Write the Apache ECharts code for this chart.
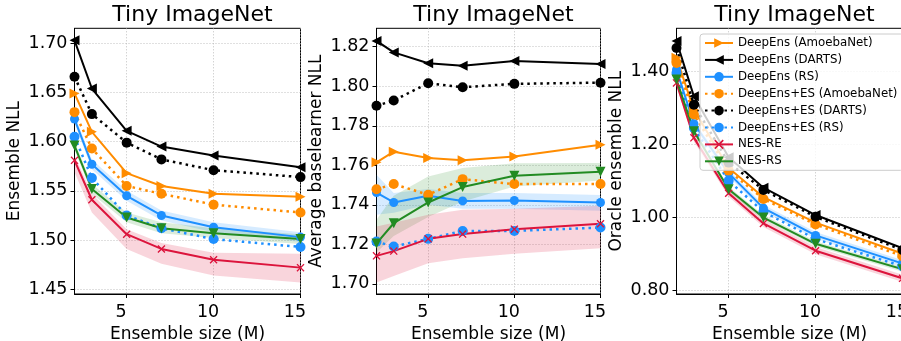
<!DOCTYPE html>
<html><head><meta charset="utf-8">
<script src="https://cdn.jsdelivr.net/npm/echarts@6/dist/echarts.min.js"></script>
<style>html,body{margin:0;padding:0;background:#fff}#c{width:901px;height:341px}</style>
</head><body><div id="c"></div><script>
const M = [2, 3, 5, 7, 10, 15];
const names = ['DeepEns (AmoebaNet)','DeepEns (DARTS)','DeepEns (RS)','DeepEns+ES (AmoebaNet)','DeepEns+ES (DARTS)','DeepEns+ES (RS)','NES-RE','NES-RS'];
const titles = ['Tiny ImageNet','Tiny ImageNet','Tiny ImageNet'];
const yNames = ['Ensemble NLL','Average baselearner NLL','Oracle ensemble NLL'];
const xName = 'Ensemble size (M)';
const xTicks = [5, 10, 15];
const yTicks1 = [1.45, 1.50, 1.55, 1.60, 1.65, 1.70];
const yTicks2 = [1.70, 1.72, 1.74, 1.76, 1.78, 1.80, 1.82];
const yTicks3 = [0.80, 1.00, 1.20, 1.40];

// Panel 1: Ensemble NLL
const p1Amoeba   = [1.649, 1.610, 1.568, 1.555, 1.547, 1.544];
const p1Darts    = [1.703, 1.654, 1.611, 1.595, 1.586, 1.574];
const p1Rs       = [1.623, 1.577, 1.545, 1.525, 1.513, 1.503];
const p1EsAmoeba = [1.630, 1.593, 1.555, 1.547, 1.536, 1.528];
const p1EsDarts  = [1.666, 1.628, 1.599, 1.582, 1.571, 1.564];
const p1EsRs     = [1.605, 1.563, 1.525, 1.512, 1.501, 1.493];
const p1NesRe    = [1.581, 1.541, 1.506, 1.491, 1.480, 1.472];
const p1NesRs    = [1.596, 1.552, 1.523, 1.512, 1.507, 1.501];
const p1NesReLo  = [1.569, 1.528, 1.491, 1.476, 1.464, 1.457];
const p1NesReHi  = [1.586, 1.547, 1.511, 1.497, 1.487, 1.486];
const p1NesRsLo  = [1.592, 1.547, 1.518, 1.507, 1.502, 1.496];
const p1NesRsHi  = [1.600, 1.557, 1.528, 1.518, 1.512, 1.506];
const p1RsLo     = [1.619, 1.572, 1.540, 1.520, 1.508, 1.498];
const p1RsHi     = [1.627, 1.582, 1.550, 1.530, 1.518, 1.508];

// Panel 2: Average baselearner NLL
const p2Amoeba   = [1.7615, 1.7669, 1.7637, 1.7625, 1.7645, 1.7704];
const p2Darts    = [1.8229, 1.8171, 1.8116, 1.8103, 1.8128, 1.8113];
const p2Rs       = [1.7462, 1.7412, 1.7446, 1.7420, 1.7422, 1.7412];
const p2EsAmoeba = [1.7479, 1.7505, 1.7451, 1.7530, 1.7505, 1.7505];
const p2EsDarts  = [1.7901, 1.7928, 1.8015, 1.7995, 1.8012, 1.8018];
const p2EsRs     = [1.7214, 1.7189, 1.7228, 1.7268, 1.7268, 1.7285];
const p2NesRe    = [1.7142, 1.7166, 1.7228, 1.7252, 1.7277, 1.7304];
const p2NesRs    = [1.7205, 1.7307, 1.7412, 1.7490, 1.7547, 1.7568];
const p2NesReLo  = [1.7007, 1.7040, 1.7105, 1.7130, 1.7152, 1.7181];
const p2NesReHi  = [1.7290, 1.7310, 1.7350, 1.7375, 1.7380, 1.7395];
const p2NesRsLo  = [1.7159, 1.7243, 1.7338, 1.7417, 1.7493, 1.7523];
const p2NesRsHi  = [1.7324, 1.7446, 1.7543, 1.7586, 1.7611, 1.7612];
const p2RsLo     = [1.7350, 1.7360, 1.7400, 1.7380, 1.7380, 1.7370];
const p2RsHi     = [1.7552, 1.7460, 1.7480, 1.7460, 1.7460, 1.7450];

// Panel 3: Oracle ensemble NLL
const p3Amoeba   = [1.438, 1.295, 1.135, 1.055, 0.985, 0.900];
const p3Darts    = [1.484, 1.332, 1.165, 1.081, 1.006, 0.915];
const p3Rs       = [1.405, 1.257, 1.121, 1.025, 0.950, 0.873];
const p3EsAmoeba = [1.424, 1.282, 1.128, 1.050, 0.980, 0.893];
const p3EsDarts  = [1.465, 1.309, 1.150, 1.075, 1.001, 0.910];
const p3EsRs     = [1.396, 1.245, 1.100, 1.015, 0.940, 0.865];
const p3NesRe    = [1.369, 1.218, 1.066, 0.983, 0.908, 0.832];
const p3NesRs    = [1.378, 1.236, 1.077, 0.999, 0.927, 0.857];
const p3NesReLo  = [1.360, 1.208, 1.056, 0.973, 0.898, 0.822];
const p3NesReHi  = [1.378, 1.228, 1.076, 0.993, 0.918, 0.842];
const p3NesRsLo  = [1.371, 1.229, 1.070, 0.992, 0.920, 0.850];
const p3NesRsHi  = [1.385, 1.243, 1.084, 1.006, 0.934, 0.864];
const p3RsLo     = [1.396, 1.248, 1.112, 1.016, 0.941, 0.864];
const p3RsHi     = [1.414, 1.266, 1.130, 1.034, 0.959, 0.882];

const FONT = 'DejaVu Sans';
const ORANGE = '#ff8c00', BLACK = '#000000', BLUE = '#1e90ff', RED = '#dc143c', GREEN = '#228b22';
const XPATH = 'path://M1.2,0 L5,3.8 L8.8,0 L10,1.2 L6.2,5 L10,8.8 L8.8,10 L5,6.2 L1.2,10 L0,8.8 L3.8,5 L0,1.2 Z';

const panels = [
  {left: 74.5, width: 226, min: 1.4452, max: 1.7152, ticks: yTicks1, nameGap: 51,
   d: [p1Amoeba, p1Darts, p1Rs, p1EsAmoeba, p1EsDarts, p1EsRs, p1NesRe, p1NesRs],
   bands: [[p1RsLo, p1RsHi, 'rgba(30,144,255,0.18)'], [p1NesRsLo, p1NesRsHi, 'rgba(34,139,34,0.16)'], [p1NesReLo, p1NesReHi, 'rgba(220,20,60,0.18)']]},
  {left: 376.5, width: 224, min: 1.6949, max: 1.8293, ticks: yTicks2, nameGap: 51,
   d: [p2Amoeba, p2Darts, p2Rs, p2EsAmoeba, p2EsDarts, p2EsRs, p2NesRe, p2NesRs],
   bands: [[p2RsLo, p2RsHi, 'rgba(30,144,255,0.18)'], [p2NesRsLo, p2NesRsHi, 'rgba(34,139,34,0.16)'], [p2NesReLo, p2NesReHi, 'rgba(220,20,60,0.18)']]},
  {left: 676.5, width: 226, min: 0.789, max: 1.519, ticks: yTicks3, nameGap: 51,
   d: [p3Amoeba, p3Darts, p3Rs, p3EsAmoeba, p3EsDarts, p3EsRs, p3NesRe, p3NesRs],
   bands: [[p3RsLo, p3RsHi, 'rgba(30,144,255,0.18)'], [p3NesRsLo, p3NesRsHi, 'rgba(34,139,34,0.16)'], [p3NesReLo, p3NesReHi, 'rgba(220,20,60,0.18)']]}
];

const styles = [
  {color: ORANGE, symbol: 'triangle', rotate: -90, size: 10, dotted: false},
  {color: BLACK,  symbol: 'triangle', rotate: 90,  size: 10, dotted: false},
  {color: BLUE,   symbol: 'circle',   rotate: 0,   size: 9,  dotted: false},
  {color: ORANGE, symbol: 'circle',   rotate: 0,   size: 10, dotted: true},
  {color: BLACK,  symbol: 'circle',   rotate: 0,   size: 10, dotted: true},
  {color: BLUE,   symbol: 'circle',   rotate: 0,   size: 10, dotted: true},
  {color: RED,    symbol: XPATH,      rotate: 0,   size: 8,  dotted: false},
  {color: GREEN,  symbol: 'triangle', rotate: 180, size: 10, dotted: false}
];

const grid = [], xAxis = [], yAxis = [], series = [], title = [];
const pair = arr => arr.map((v, i) => [M[i], v]);

panels.forEach((p, gi) => {
  grid.push({left: p.left, top: 28.3, width: p.width, height: 265.7, show: true,
    outerBoundsMode: 'none', containLabel: false,
    borderColor: '#000', borderWidth: 1, backgroundColor: 'transparent'});
  title.push({text: titles[gi], left: p.left + p.width / 2, top: -1, textAlign: 'center',
    textStyle: {fontFamily: FONT, fontSize: 22, fontWeight: 'normal', color: '#000'}});
  xAxis.push({type: 'value', gridIndex: gi, min: 2, max: 15,
    name: xName, nameLocation: 'middle', nameGap: 32,
    nameTextStyle: {fontFamily: FONT, fontSize: 17, color: '#000'},
    axisLine: {show: true, onZero: false, lineStyle: {color: '#000', width: 1}},
    axisTick: {show: true, customValues: xTicks, length: 4, lineStyle: {color: '#000'}},
    axisLabel: {customValues: xTicks, fontFamily: FONT, fontSize: 17.5, color: '#000', margin: 9,
      padding: [0, 11, 0, 0]},
    splitLine: {show: true, lineStyle: {color: '#b0b0b0', type: [1, 2], width: 0.8}}});
  yAxis.push({type: 'value', gridIndex: gi, min: p.min, max: p.max,
    name: yNames[gi], nameLocation: 'middle', nameGap: p.nameGap,
    nameTextStyle: {fontFamily: FONT, fontSize: 17, color: '#000'},
    axisLine: {show: true, onZero: false, lineStyle: {color: '#000', width: 1}},
    axisTick: {show: true, customValues: p.ticks, length: 4, lineStyle: {color: '#000'}},
    axisLabel: {customValues: p.ticks, fontFamily: FONT, fontSize: 17.5, color: '#000', margin: 7,
      formatter: v => v.toFixed(2)},
    splitLine: {show: true, lineStyle: {color: '#b0b0b0', type: [1, 2], width: 0.8}}});
  p.bands.forEach((b) => {
    const lo = b[0], hi = b[1], fill = b[2];
    series.push({type: 'custom', xAxisIndex: gi, yAxisIndex: gi, coordinateSystem: 'cartesian2d',
      data: [[M[0], lo[0]]], silent: true, clip: true, z: 1,
      renderItem: (params, api) => {
        const pts = [];
        for (let i = 0; i < M.length; i++) pts.push(api.coord([M[i], hi[i]]));
        for (let i = M.length - 1; i >= 0; i--) pts.push(api.coord([M[i], lo[i]]));
        return {type: 'polygon', shape: {points: pts}, style: {fill: fill}};
      }});
  });
  p.d.forEach((arr, si) => {
    const s = styles[si];
    series.push({type: 'line', name: names[si], xAxisIndex: gi, yAxisIndex: gi,
      data: pair(arr), symbol: s.symbol, symbolSize: s.size, symbolRotate: s.rotate,
      showAllSymbol: true, clip: false,
      itemStyle: {color: s.color, borderWidth: 0},
      lineStyle: {color: s.color, width: s.dotted ? 2.5 : 2, type: s.dotted ? [2.5, 4] : 'solid'},
      emphasis: {disabled: true}, z: 2});
  });
});

const chart = echarts.init(document.getElementById('c'), null, {renderer: 'canvas'});
chart.setOption({
  animation: false,
  title: title,
  grid: grid, xAxis: xAxis, yAxis: yAxis, series: series,
  legend: {data: names, orient: 'vertical', left: 700, top: 34,
    itemWidth: 28, itemHeight: 12, itemGap: 4.9,
    padding: [3, 6, 3, 4],
    backgroundColor: 'rgba(255,255,255,0.8)', borderColor: '#cccccc', borderWidth: 1, borderRadius: 3,
    textStyle: {fontFamily: FONT, fontSize: 11.8, color: '#000'}}
});
</script></body></html>
